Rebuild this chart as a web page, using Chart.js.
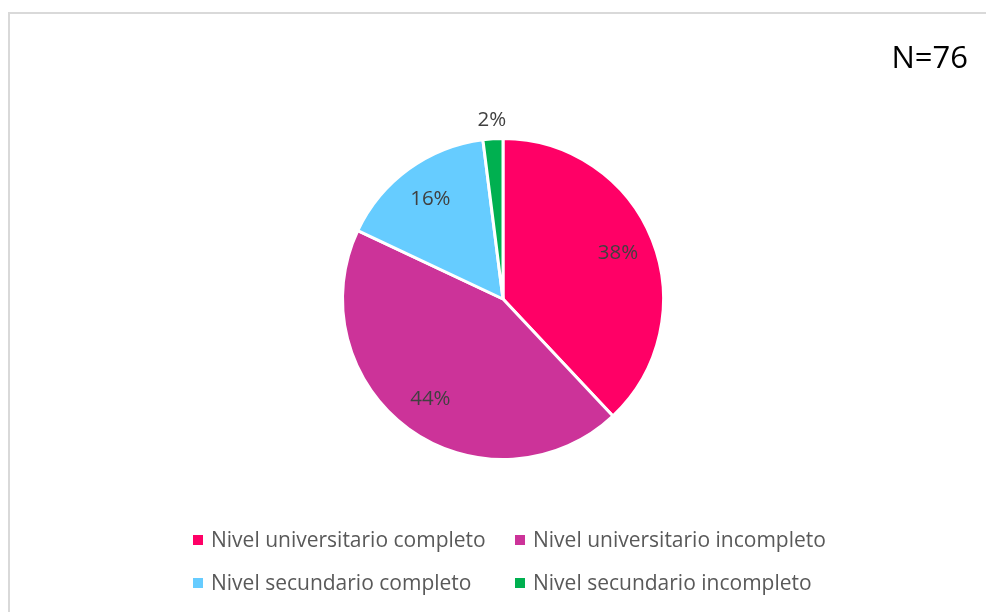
<!DOCTYPE html>
<html>
<head>
<meta charset="utf-8">
<script src="https://cdn.jsdelivr.net/npm/chart.js@4"></script>
<style>
  html, body { margin: 0; padding: 0; background: #fff; }
  #wrap { position: relative; width: 986px; height: 612px; overflow: hidden; }
  #frame { position: absolute; left: 8px; top: 12px; width: 1000px; height: 700px;
           border-left: 2px solid #d9d9d9; border-top: 2px solid #d9d9d9; box-sizing: border-box; }
  canvas { position: absolute; left: 0; top: 0; }
</style>
</head>
<body>
<div id="wrap">
  <div id="frame"></div>
  <canvas id="pieChart" width="986" height="612"></canvas>
</div>
<script>
// Chart data
const categories = [
    'Nivel universitario completo',
    'Nivel universitario incompleto',
    'Nivel secundario completo',
    'Nivel secundario incompleto'
];
const percentages = [38, 44, 16, 2];
const sliceColors = ['#ff0066', '#cc3399', '#66ccff', '#00b050'];
const sampleLabel = 'N=76';

const FONT = '"Open Sans", "Noto Sans", sans-serif';

// Draws percent labels, legend and N text
const extrasPlugin = {
    id: 'extras',
    afterDatasetsDraw(chart) {
        const ctx = chart.ctx;
        const meta = chart.getDatasetMeta(0);
        ctx.save();
        ctx.font = '20.5px ' + FONT;
        ctx.fillStyle = '#404040';
        ctx.textAlign = 'center';
        ctx.textBaseline = 'middle';
        meta.data.forEach((arc, i) => {
            const mid = (arc.startAngle + arc.endAngle) / 2;
            const f = percentages[i] < 5 ? 1.115 : 0.77;
            const r = arc.outerRadius * f;
            ctx.fillText(percentages[i] + '%', arc.x + Math.cos(mid) * r, arc.y + Math.sin(mid) * r);
        });

        // Legend, two columns
        const colX = [193, 515];
        const rowY = [540, 583];
        ctx.textAlign = 'left';
        ctx.font = '21px ' + FONT;
        categories.forEach((name, i) => {
            const x = colX[i % 2];
            const y = rowY[Math.floor(i / 2)];
            ctx.fillStyle = sliceColors[i];
            ctx.fillRect(x, y - 5, 10, 10);
            ctx.fillStyle = '#595959';
            ctx.fillText(name, x + 18, y + 1);
        });

        // N label
        ctx.font = '31px ' + FONT;
        ctx.fillStyle = '#000';
        ctx.textAlign = 'right';
        ctx.fillText(sampleLabel, 968, 59);
        ctx.restore();
    }
};

new Chart(document.getElementById('pieChart'), {
    type: 'pie',
    data: {
        labels: categories,
        datasets: [{
            data: percentages,
            backgroundColor: sliceColors,
            borderColor: '#ffffff',
            borderWidth: 3
        }]
    },
    options: {
        responsive: false,
        animation: false,
        layout: { padding: { left: 341, right: 321, top: 137, bottom: 151 } },
        plugins: {
            legend: { display: false },
            tooltip: { enabled: false }
        }
    },
    plugins: [extrasPlugin]
});
</script>
</body>
</html>
